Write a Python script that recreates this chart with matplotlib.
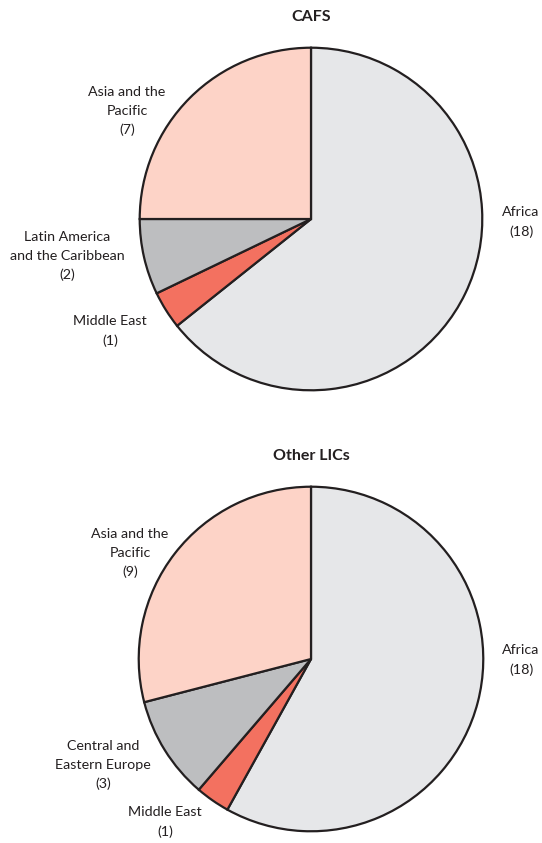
import matplotlib
matplotlib.use("Agg")
import matplotlib.pyplot as plt

plt.rcParams['font.family'] = ['Lato', 'DejaVu Sans']

# Data
cafs_labels = ["Africa", "Middle East", "Latin America\nand the Caribbean", "Asia and the\nPacific"]
cafs_values = [18, 1, 2, 7]
other_labels = ["Africa", "Middle East", "Central and\nEastern Europe", "Asia and the\nPacific"]
other_values = [18, 1, 3, 9]
colors = ["#e6e7e9", "#f37160", "#bdbec0", "#fdd3c7"]

W, H = 542, 843
fig = plt.figure(figsize=(W / 100, H / 100), dpi=100)

def add_pie(cx, cy, r, values, title, title_y, label_pos, labels):
    ax = fig.add_axes([(cx - r) / W, 1 - (cy + r) / H, 2 * r / W, 2 * r / H])
    ax.pie(values, colors=colors, startangle=90, counterclock=False, radius=1,
           wedgeprops=dict(edgecolor="#231f20", linewidth=1.6))
    ax.set_xlim(-1.01, 1.01)
    ax.set_ylim(-1.01, 1.01)
    ax.set_aspect('equal')
    ax.axis('off')
    fig.text(cx / W, 1 - title_y / H, title, ha='center', va='center',
             fontsize=11.5, fontweight='bold', color="#231f20")
    for (px, py), lab, v in zip(label_pos, labels, values):
        fig.text(px / W, 1 - py / H, f"{lab}\n({v})", ha='center', va='center',
                 fontsize=10.3, color="#231f20", linespacing=1.65)

add_pie(311, 219, 173, cafs_values, "CAFS", 17,
        [(521, 222), (110, 331), (67, 256), (127, 111)], cafs_labels)
add_pie(311, 659, 174, other_values, "Other LICs", 456,
        [(521, 660), (165, 822), (103, 765), (130, 553)], other_labels)

fig.savefig("out.png", dpi=100)
